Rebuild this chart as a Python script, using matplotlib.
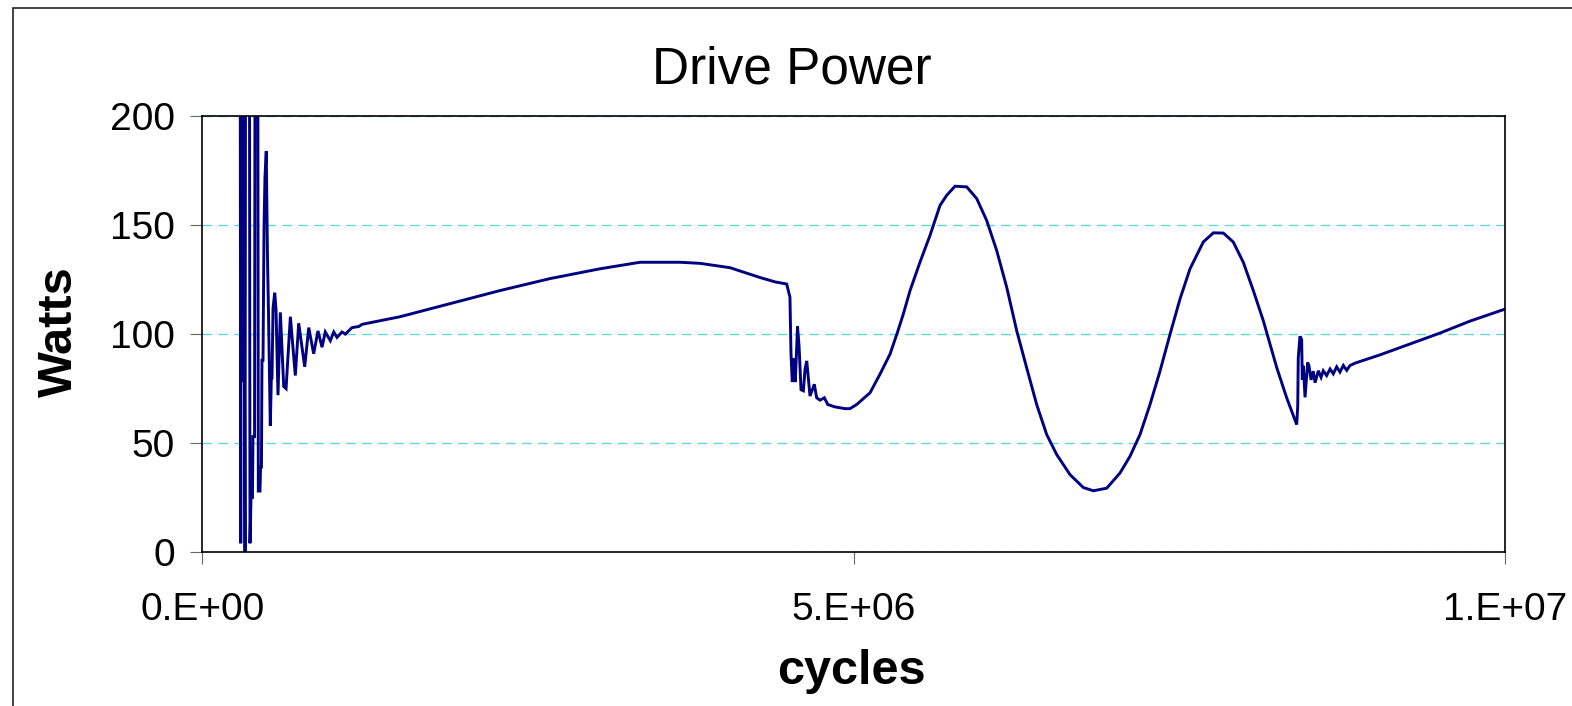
import matplotlib.pyplot as plt
from matplotlib.patches import Rectangle

plt.rcParams["font.family"] = ["Liberation Sans", "DejaVu Sans"]

# cycles in millions, drive power in watts
cycles_m = [
    0.291, 0.295, 0.299, 0.310, 0.316, 0.328, 0.332, 0.362, 0.366, 0.374,
    0.385, 0.389, 0.401, 0.405, 0.426, 0.430, 0.443, 0.447, 0.454, 0.458,
    0.466, 0.474, 0.481, 0.491, 0.500, 0.508, 0.522, 0.530, 0.535, 0.543,
    0.556, 0.566, 0.581, 0.599, 0.625, 0.643, 0.676, 0.714, 0.740, 0.786,
    0.817, 0.855, 0.888, 0.919, 0.944, 0.983, 1.009, 1.034, 1.072, 1.098,
    1.149, 1.201, 1.226,
    1.518, 1.901, 2.285, 2.669, 3.053, 3.360, 3.667, 3.821, 4.051, 4.281,
    4.396, 4.486,
    4.511, 4.519, 4.529, 4.540, 4.552, 4.569, 4.581, 4.596, 4.614, 4.627,
    4.640, 4.652, 4.665, 4.698, 4.716, 4.742, 4.775, 4.801, 4.857, 4.934,
    4.972,
    5.023, 5.126, 5.202, 5.279, 5.335, 5.381, 5.433, 5.509, 5.586, 5.663,
    5.714, 5.778, 5.868, 5.945, 6.021, 6.098, 6.175, 6.252, 6.328, 6.405,
    6.482, 6.559, 6.661, 6.763, 6.840, 6.943, 7.045, 7.121, 7.198, 7.275,
    7.352, 7.429, 7.505, 7.582, 7.684, 7.761, 7.838, 7.914, 7.991, 8.068,
    8.145, 8.248, 8.324, 8.401,
    8.409, 8.413, 8.426, 8.439, 8.444, 8.452, 8.465, 8.485, 8.495, 8.511,
    8.528, 8.542, 8.567, 8.588, 8.605, 8.631, 8.657, 8.682, 8.708, 8.733,
    8.759, 8.785, 8.810, 8.849,
    9.041, 9.271, 9.501, 9.732, 10.0,
]
watts = [
    240, 4, 240, 78, 240, 0, 240, 240, 4, 25,
    25, 53, 53, 240, 240, 28, 28, 39, 39, 88,
    88, 150, 172, 184, 137, 110, 58, 80, 80, 112,
    119, 111, 72, 110, 76, 75, 108, 81, 105, 85,
    103, 91, 101.5, 94, 101, 97, 101, 98.5, 101, 100,
    103, 103.5, 104.5,
    108, 114, 120, 125.5, 130, 133, 133, 132.5, 130.5, 126,
    124, 123,
    117, 91, 78, 89, 78, 103.5, 94.5, 74.5, 74, 84,
    87.7, 80, 71.6, 77, 70.8, 69.7, 70.8, 67.7, 66.6, 65.8,
    65.8,
    67.7, 73.1, 81.6, 90.8, 100.6, 109.2, 120, 133, 145.3, 159.1,
    163.7, 167.9, 167.6, 162.2, 152.2, 138.4, 121.5, 101.5, 84.6, 67.7,
    53.9, 44.7, 35.5, 29.6, 28.1, 29.3, 36.3, 43.9, 53.9, 67.7,
    83.1, 100, 116.1, 130, 142.3, 146.5, 146.4, 142.3, 133, 120,
    106.1, 84.6, 70.8, 58.5,
    67, 89, 99, 97.5, 79, 85.5, 71, 87, 85.5, 79,
    83, 77.7, 83.2, 80.2, 83.2, 81, 84, 81.8, 85, 82.6,
    85.6, 83.4, 85.6, 86.7,
    90.5, 95.5, 100.5, 106, 111.5,
]
x_ticks = [0, 5e6, 1e7]
x_tick_labels = ["0.E+00", "5.E+06", "1.E+07"]
y_ticks = [0, 50, 100, 150, 200]

W, H = 1572, 706
fig = plt.figure(figsize=(W / 100, H / 100), dpi=100)
ax = fig.add_axes([202.3 / W, 1 - 552 / H, (1505 - 202.3) / W, (552 - 116.3) / H])

cycles = [c * 1e6 for c in cycles_m]
ax.plot(cycles, watts, color="#000080", lw=2.1, solid_joinstyle="miter")

ax.set_xlim(0, 1e7)
ax.set_ylim(0, 200)
ax.set_xticks(x_ticks)
ax.set_xticklabels(x_tick_labels)
ax.set_yticks(y_ticks)
ax.yaxis.grid(True, color="#5fd8d8", lw=1.0, linestyle=(0, (7, 4.5)))
ax.set_axisbelow(True)
ax.tick_params(axis="both", direction="out", length=8.6, width=0.8,
               color="#666666", labelsize=28)
ax.tick_params(axis="x", pad=20)
ax.tick_params(axis="y", pad=11)
for s in ax.spines.values():
    s.set_linewidth(1.2)
    s.set_color("black")

fig.text(792 / W, 1 - 83 / H, "Drive Power", ha="center", va="baseline", fontsize=37)
fig.text(851 / W, 1 - 684 / H, "cycles", ha="center", va="baseline",
         fontsize=35, fontweight="bold")
fig.text(59 / W, 1 - 332 / H, "Watts", ha="center", va="center", rotation=90,
         fontsize=35, fontweight="bold")

# chart area border (left and top edges visible)
fig.patches.append(Rectangle((13 / W, -0.1), 1.2, 1.1 - 8 / H,
                             transform=fig.transFigure, fill=False,
                             ec="#222222", lw=1.2))

fig.savefig("out.png", dpi=100)
